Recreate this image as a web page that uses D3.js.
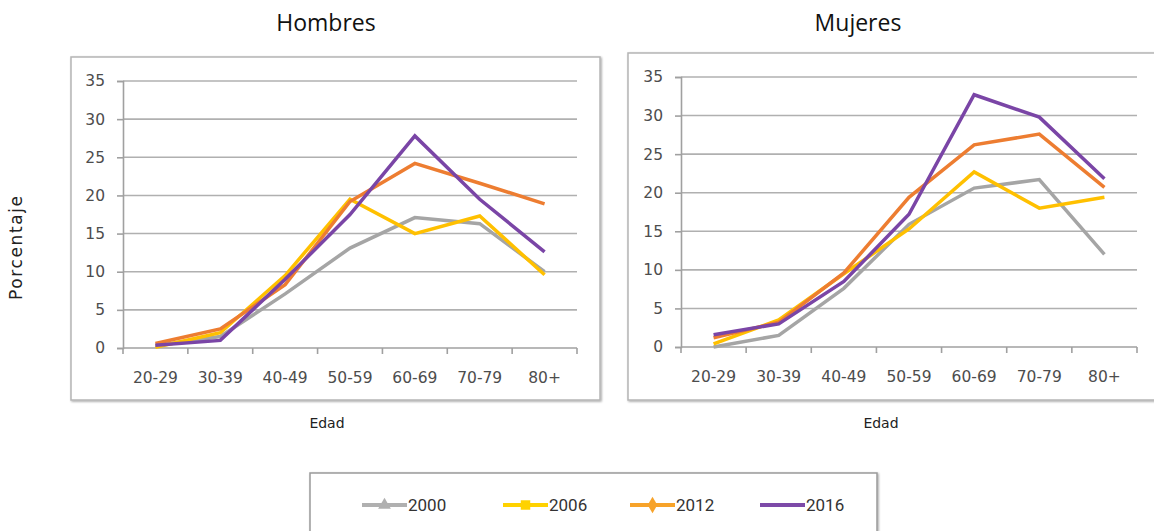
<!DOCTYPE html>
<html>
<head>
<meta charset="utf-8">
<script src="https://d3js.org/d3.v7.min.js"></script>
<style>
  html, body { margin: 0; padding: 0; background: #ffffff; }
  svg { display: block; }
</style>
</head>
<body>
<svg id="chart" width="1154" height="531"></svg>
<script>
// Age groups on the horizontal axis
const ageGroups = ["20-29", "30-39", "40-49", "50-59", "60-69", "70-79", "80+"];
const yTicks = [0, 5, 10, 15, 20, 25, 30, 35];
const years = ["2000", "2006", "2012", "2016"];

// Hombres (%)
const hombres2000 = [0.3, 1.5, 7.1, 13.1, 17.1, 16.3, 10.0];
const hombres2006 = [0.1, 2.0, 9.5, 19.5, 15.0, 17.3, 9.6];
const hombres2012 = [0.6, 2.5, 8.3, 19.2, 24.2, 21.6, 18.9];
const hombres2016 = [0.35, 1.0, 9.0, 17.5, 27.8, 19.5, 12.6];

// Mujeres (%)
const mujeres2000 = [0.0, 1.5, 7.6, 15.9, 20.6, 21.7, 12.0];
const mujeres2006 = [0.4, 3.5, 9.5, 15.3, 22.7, 18.0, 19.4];
const mujeres2012 = [1.2, 3.2, 9.6, 19.4, 26.2, 27.6, 20.7];
const mujeres2016 = [1.6, 3.0, 8.5, 17.2, 32.7, 29.8, 21.8];

const lineColors = { "2000": "#a5a5a5", "2006": "#ffc000", "2012": "#ed7d31", "2016": "#7a45a6" };
const legendColors = { "2000": "#b0b0b0", "2006": "#ffd200", "2012": "#f7a32a", "2016": "#7d4aa8" };

const svg = d3.select("#chart");

const defs = svg.append("defs");
const shadow = defs.append("filter").attr("id", "frameShadow")
  .attr("x", "-5%").attr("y", "-5%").attr("width", "110%").attr("height", "110%");
shadow.append("feGaussianBlur").attr("in", "SourceAlpha").attr("stdDeviation", 1.2).attr("result", "b");
shadow.append("feOffset").attr("in", "b").attr("dx", 1).attr("dy", 1).attr("result", "o");
shadow.append("feComponentTransfer").attr("in", "o").attr("result", "s")
  .append("feFuncA").attr("type", "linear").attr("slope", 0.35);
const merge = shadow.append("feMerge");
merge.append("feMergeNode").attr("in", "s");
merge.append("feMergeNode").attr("in", "SourceGraphic");

const panels = [
  { title: "Hombres", series: [hombres2000, hombres2006, hombres2012, hombres2016],
    frame: [71, 57, 600, 400], x0: 123, x1: 577, yTop: 81, yBot: 348, titleX: 326, edadX: 327 },
  { title: "Mujeres", series: [mujeres2000, mujeres2006, mujeres2012, mujeres2016],
    frame: [628, 53, 1162, 400], x0: 681, x1: 1137, yTop: 77, yBot: 347, titleX: 858, edadX: 881 }
];

panels.forEach(p => {
  const g = svg.append("g");

  // chart frame
  g.append("rect")
    .attr("x", p.frame[0]).attr("y", p.frame[1])
    .attr("width", p.frame[2] - p.frame[0]).attr("height", p.frame[3] - p.frame[1])
    .attr("fill", "#fff").attr("stroke", "#b5b5b5").attr("stroke-width", 1.5)
    .attr("filter", "url(#frameShadow)");

  // title
  svg.append("text")
    .attr("x", p.titleX).attr("y", 31)
    .attr("text-anchor", "middle")
    .attr("font-family", "'Open Sans', sans-serif")
    .attr("font-size", 23).attr("fill", "#111")
    .text(p.title);

  const x = d3.scaleBand().domain(ageGroups).range([p.x0, p.x1]);
  const y = d3.scaleLinear().domain([0, 35]).range([p.yBot, p.yTop]);

  // horizontal gridlines
  g.append("g").selectAll("line").data(yTicks.filter(t => t > 0)).join("line")
    .attr("x1", p.x0).attr("x2", p.x1)
    .attr("y1", d => y(d)).attr("y2", d => y(d))
    .attr("stroke", "#b0b0b0").attr("stroke-width", 1.6);

  // y axis
  const yAxis = g.append("g").attr("transform", `translate(${p.x0},0)`)
    .call(d3.axisLeft(y).tickValues(yTicks).tickSize(6).tickPadding(12));
  yAxis.select(".domain").attr("stroke", "#a0a0a0").attr("stroke-width", 1.6);
  yAxis.selectAll(".tick line").attr("stroke", "#a0a0a0").attr("stroke-width", 1.6);
  yAxis.selectAll(".tick text")
    .attr("font-family", "'DejaVu Sans', sans-serif").attr("font-size", 15.5)
    .attr("fill", "#4d4d4d");

  // x axis with ticks at category boundaries
  const xAxis = g.append("g").attr("transform", `translate(0,${p.yBot})`);
  xAxis.append("line").attr("x1", p.x0).attr("x2", p.x1).attr("y1", 0).attr("y2", 0)
    .attr("stroke", "#a0a0a0").attr("stroke-width", 1.6);
  const edges = ageGroups.map(a => x(a)).concat([p.x1]);
  xAxis.selectAll("line.edge").data(edges).join("line").attr("class", "edge")
    .attr("x1", d => d).attr("x2", d => d).attr("y1", 0).attr("y2", 6)
    .attr("stroke", "#a0a0a0").attr("stroke-width", 1.6);
  xAxis.selectAll("text").data(ageGroups).join("text")
    .attr("x", d => x(d) + x.bandwidth() / 2).attr("y", 35)
    .attr("text-anchor", "middle")
    .attr("font-family", "'DejaVu Sans', sans-serif").attr("font-size", 15.5)
    .attr("fill", "#4d4d4d")
    .text(d => d);

  // Edad axis title
  svg.append("text")
    .attr("x", p.edadX).attr("y", 428)
    .attr("text-anchor", "middle")
    .attr("font-family", "'DejaVu Sans', sans-serif").attr("font-size", 14)
    .attr("fill", "#222")
    .text("Edad");

  // series lines
  const line = d3.line()
    .x((d, i) => x(ageGroups[i]) + x.bandwidth() / 2)
    .y(d => y(d));
  p.series.forEach((vals, k) => {
    g.append("path").datum(vals)
      .attr("d", line)
      .attr("fill", "none")
      .attr("stroke", lineColors[years[k]])
      .attr("stroke-width", 3.5)
      .attr("stroke-linejoin", "miter");
  });
});

// Porcentaje axis title
svg.append("text")
  .attr("transform", "translate(22,248) rotate(-90)")
  .attr("text-anchor", "middle")
  .attr("font-family", "'DejaVu Sans', sans-serif").attr("font-size", 17)
  .attr("fill", "#222")
  .attr("textLength", 104).attr("lengthAdjust", "spacing")
  .text("Porcentaje");

// Legend
const legend = svg.append("g");
legend.append("rect")
  .attr("x", 310).attr("y", 473).attr("width", 567).attr("height", 80)
  .attr("fill", "#fff").attr("stroke", "#9a9a9a").attr("stroke-width", 1.5)
  .attr("filter", "url(#frameShadow)");

const legendX = { "2000": 362, "2006": 503, "2012": 630, "2016": 760 };
const markers = { "2000": d3.symbolTriangle, "2006": d3.symbolSquare, "2012": d3.symbolDiamond, "2016": null };
const markerSize = { "2000": 70, "2006": 90, "2012": 80 };
years.forEach(yr => {
  const lx = legendX[yr];
  const ly = 505;
  const c = legendColors[yr];
  legend.append("line")
    .attr("x1", lx).attr("x2", lx + 45).attr("y1", ly).attr("y2", ly)
    .attr("stroke", c).attr("stroke-width", 4);
  if (markers[yr]) {
    legend.append("path")
      .attr("d", d3.symbol().type(markers[yr]).size(markerSize[yr])())
      .attr("transform", `translate(${lx + 22.5},${ly})`)
      .attr("fill", c);
  }
  legend.append("text")
    .attr("x", lx + 46).attr("y", ly + 6)
    .attr("font-family", "Roboto, sans-serif").attr("font-size", 17)
    .attr("fill", "#333")
    .text(yr);
});
</script>
</body>
</html>
